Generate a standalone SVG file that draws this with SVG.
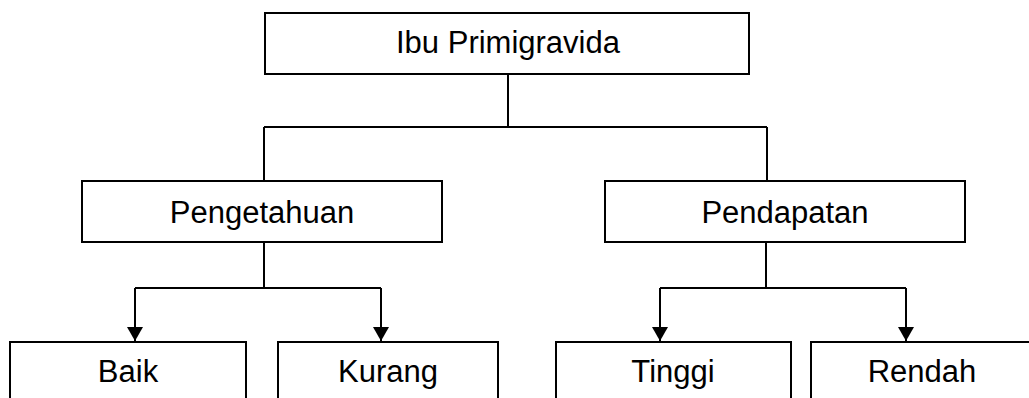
<svg xmlns="http://www.w3.org/2000/svg" width="1029" height="398" viewBox="0 0 1029 398">
  <style>
    .box { fill: #ffffff; stroke: #000000; stroke-width: 2; }
    .lbl { font-family: "Liberation Sans", Arial, sans-serif; font-size: 31px; fill: #000000; text-anchor: middle; }
    .conn { fill: none; stroke: #000000; stroke-width: 2; }
  </style>
  <defs>
    <marker id="arrow" markerUnits="userSpaceOnUse" markerWidth="16" markerHeight="16" refX="14" refY="8" orient="auto">
      <path d="M0,0 L14,8 L0,16 z" fill="#000000"/>
    </marker>
  </defs>
  <rect width="1029" height="398" fill="#ffffff"/>
  <g id="connectors">
    <path class="conn" d="M508,74 V127"/>
    <path class="conn" d="M264,127 H767"/>
    <path class="conn" d="M264,127 V181"/>
    <path class="conn" d="M767,127 V181"/>
    <path class="conn" d="M264,242 V288"/>
    <path class="conn" d="M135,288 H381"/>
    <path class="conn" d="M135,288 V341" marker-end="url(#arrow)"/>
    <path class="conn" d="M381,288 V341" marker-end="url(#arrow)"/>
    <path class="conn" d="M766,242 V288"/>
    <path class="conn" d="M660,288 H906"/>
    <path class="conn" d="M660,288 V341" marker-end="url(#arrow)"/>
    <path class="conn" d="M906,288 V341" marker-end="url(#arrow)"/>
  </g>
  <g id="ibu-primigravida">
    <rect class="box" x="265" y="13" width="484" height="61"/>
    <text class="lbl" x="508" y="53">Ibu Primigravida</text>
  </g>
  <g id="pengetahuan">
    <rect class="box" x="82" y="181" width="360" height="61"/>
    <text class="lbl" x="262" y="223">Pengetahuan</text>
  </g>
  <g id="pendapatan">
    <rect class="box" x="605" y="181" width="360" height="61"/>
    <text class="lbl" x="785" y="223">Pendapatan</text>
  </g>
  <g id="baik">
    <rect class="box" x="10" y="342" width="236" height="70"/>
    <text class="lbl" x="128" y="382">Baik</text>
  </g>
  <g id="kurang">
    <rect class="box" x="278" y="342" width="220" height="70"/>
    <text class="lbl" x="388" y="382">Kurang</text>
  </g>
  <g id="tinggi">
    <rect class="box" x="556" y="342" width="235" height="70"/>
    <text class="lbl" x="673" y="382">Tinggi</text>
  </g>
  <g id="rendah">
    <rect class="box" x="811" y="342" width="222" height="70"/>
    <text class="lbl" x="922" y="382">Rendah</text>
  </g>
</svg>
